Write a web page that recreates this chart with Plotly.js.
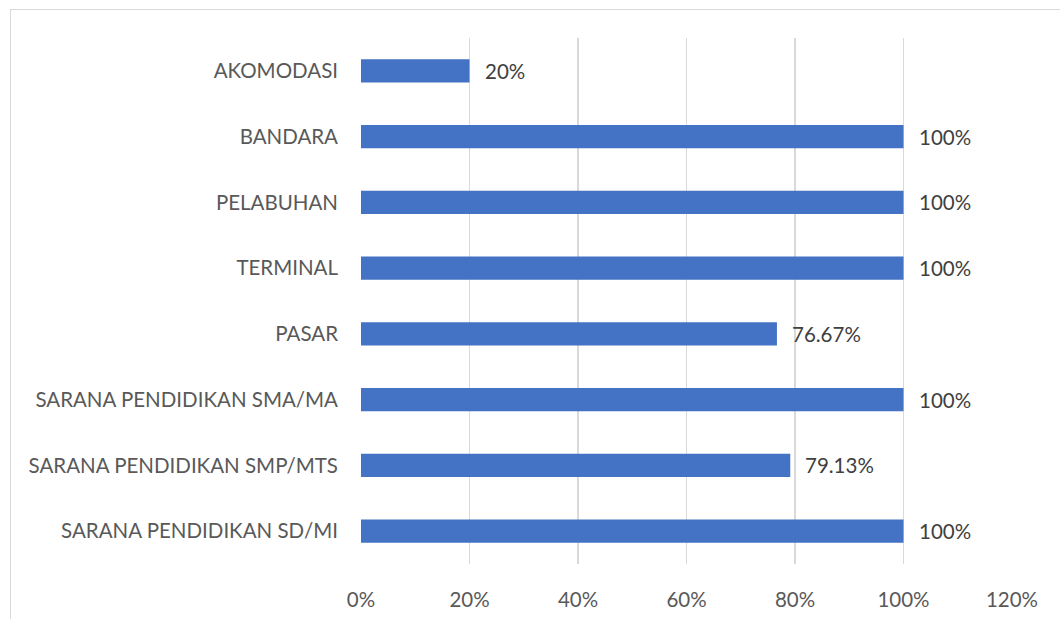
<!DOCTYPE html>
<html>
<head>
<meta charset="utf-8">
<script src="https://cdn.plot.ly/plotly-3.0.1.min.js"></script>
<style>
  html, body { margin: 0; padding: 0; background: #ffffff; }
  #frame { position: absolute; left: 10px; top: 9px; width: 1200px; height: 800px;
           border-left: 1px solid #d9d9d9; border-top: 1px solid #d9d9d9; }
  #chart { position: absolute; left: 0; top: 0; width: 1060px; height: 619px; }
</style>
</head>
<body>
<div id="frame"></div>
<div id="chart"></div>
<script>
const categories = [
  "SARANA PENDIDIKAN SD/MI",
  "SARANA PENDIDIKAN SMP/MTS",
  "SARANA PENDIDIKAN SMA/MA",
  "PASAR",
  "TERMINAL",
  "PELABUHAN",
  "BANDARA",
  "AKOMODASI"
];
const values = [100, 79.13, 100, 76.67, 100, 100, 100, 20];
const valueLabels = ["100%", "79.13%", "100%", "76.67%", "100%", "100%", "100%", "20%"];
const tickValues = [0, 20, 40, 60, 80, 100, 120];
const tickLabels = ["0%", "20%", "40%", "60%", "80%", "100%", "120%"];

const fontFamily = "Lato, 'Open Sans', sans-serif";

const trace = {
  type: "bar",
  orientation: "h",
  y: categories,
  x: values,
  marker: { color: "#4472C4" },
  hoverinfo: "skip"
};

const annotations = values.map((v, i) => ({
  x: v, y: categories[i], xref: "x", yref: "y",
  text: valueLabels[i], showarrow: false,
  xanchor: "left", yanchor: "middle", xshift: 13,
  font: { family: fontFamily, size: 20.5, color: "#404040" }
}));

const layout = {
  width: 1060, height: 619,
  margin: { l: 361, r: 48, t: 38, b: 55, pad: 0 },
  paper_bgcolor: "rgba(0,0,0,0)",
  plot_bgcolor: "rgba(0,0,0,0)",
  showlegend: false,
  bargap: 0.645,
  xaxis: {
    range: [0, 120],
    tickvals: tickValues, ticktext: tickLabels,
    showgrid: true, gridcolor: "#d9d9d9", gridwidth: 1.5,
    zeroline: false, showline: false, ticks: "",
    ticklabelstandoff: 21,
    tickfont: { family: fontFamily, size: 20.5, color: "#595959" },
    fixedrange: true
  },
  yaxis: {
    type: "category",
    categoryorder: "array", categoryarray: categories,
    showgrid: false, zeroline: false, showline: false, ticks: "",
    ticklabelstandoff: 22,
    tickfont: { family: fontFamily, size: 20.5, color: "#595959" },
    fixedrange: true
  },
  annotations: annotations
};

Plotly.newPlot("chart", [trace], layout, { displayModeBar: false, staticPlot: true });
</script>
</body>
</html>
